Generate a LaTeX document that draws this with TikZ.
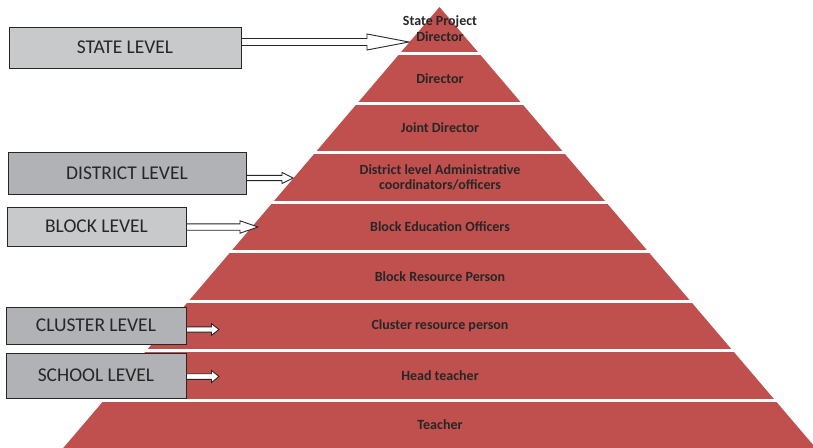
\documentclass[tikz,border=0pt]{standalone}
\usepackage{fontspec}
\setmainfont{Carlito}
\usetikzlibrary{calc}
\definecolor{layerred}{HTML}{C0504D}
\definecolor{boxlight}{HTML}{C8C9CB}
\definecolor{boxdark}{HTML}{B1B2B5}
\definecolor{inkgray}{HTML}{262626}

\begin{document}
\begin{tikzpicture}[x=1pt,y=-1pt,
    level/.style={draw=inkgray, line width=1pt, minimum width=#1, inner sep=0pt,
        text=inkgray, font=\fontsize{19.5}{22}\selectfont},
    layer/.style={text=inkgray, align=center, font=\bfseries\fontsize{14}{15.5}\selectfont},
    levelarrow/.style n args={3}{draw=inkgray, fill=white, line width=0.9pt,
        to path={let \p1=(\tikztostart), \p2=(\tikztotarget) in
            (\x1,\y1+#1) -- (\x2-#3,\y1+#1) -- (\x2-#3,\y1+#2) -- (\x2,\y2)
            -- (\x2-#3,\y1-#2) -- (\x2-#3,\y1-#1) -- (\x1,\y1-#1) -- cycle}}]
    \useasboundingbox (0,0) rectangle (813,447);

    % pyramid, cut into layers by white bands
    \begin{scope}
        \clip (0,0) rectangle (813,447);
        \fill[layerred] (439.5,7) -- (826,460) -- (53,460) -- cycle;
        \foreach \g in {0,...,7}
            \draw[white, line width=3pt] (0,53.5+49.5*\g) -- (813,53.5+49.5*\g);
    \end{scope}

    \node[layer] (spd)  at (440,28.5)   {State Project\\Director};
    \node[layer] (dir)  at (440,78.25)  {Director};
    \node[layer] (jd)   at (440,127.75) {Joint Director};
    \node[layer] (dao)  at (440,177.25) {District level Administrative\\coordinators/officers};
    \node[layer] (beo)  at (440,226.75) {Block Education Officers};
    \node[layer] (brp)  at (440,276.25) {Block Resource Person};
    \node[layer] (crp)  at (440,325.75) {Cluster resource person};
    \node[layer] (ht)   at (440,375.25) {Head teacher};
    \node[layer] (tch)  at (440,425)    {Teacher};

    \node[level=232pt, minimum height=41pt, fill=boxlight] (state)    at (125,47.5)  {STATE LEVEL};
    \node[level=238pt, minimum height=42pt, fill=boxdark]  (district) at (127,173)   {DISTRICT LEVEL};
    \node[level=179pt, minimum height=39pt, fill=boxlight] (block)    at (96.5,226.5) {BLOCK LEVEL};
    \node[level=180pt, minimum height=37pt, fill=boxdark]  (cluster)  at (96,325.5)  {CLUSTER LEVEL};
    \node[level=180pt, minimum height=45pt, fill=boxdark]  (school)   at (96,375.5)  {SCHOOL LEVEL};

    \coordinate (statetip)    at (409,42);
    \coordinate (districttip) at (293,178);
    \coordinate (blocktip)    at (258,227);
    \coordinate (clustertip)  at (219,329.5);
    \coordinate (schooltip)   at (219,376.5);

    \draw[levelarrow={3.5pt}{8pt}{42pt}]  (state.east |- statetip)       to (statetip);
    \draw[levelarrow={2.6pt}{5.6pt}{11pt}] (district.east |- districttip) to (districttip);
    \draw[levelarrow={3.2pt}{6.2pt}{18pt}] (block.east |- blocktip)       to (blocktip);
    \draw[levelarrow={2.6pt}{5.8pt}{7.5pt}] (cluster.east |- clustertip)  to (clustertip);
    \draw[levelarrow={2.8pt}{6pt}{7.5pt}]  (school.east |- schooltip)     to (schooltip);
\end{tikzpicture}
\end{document}
